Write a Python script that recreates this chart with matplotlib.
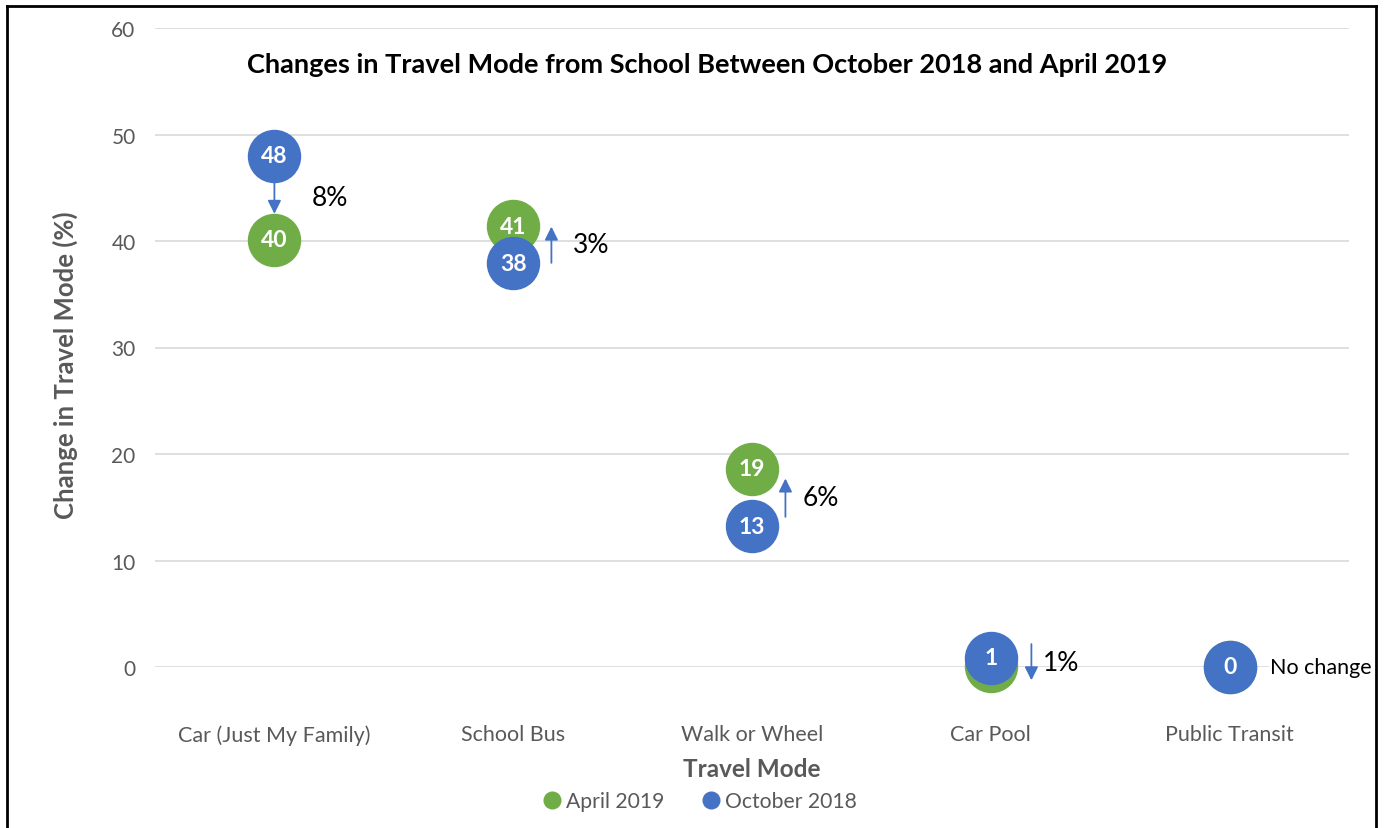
import matplotlib
matplotlib.use("Agg")
import matplotlib.pyplot as plt
from matplotlib.lines import Line2D

plt.rcParams['font.family'] = ['Lato', 'DejaVu Sans']

categories = ["Car (Just My Family)", "School Bus", "Walk or Wheel", "Car Pool", "Public Transit"]
april_2019 = [40.1, 41.4, 18.6, 0.05, 0.0]
october_2018 = [48.0, 37.9, 13.2, 0.85, 0.0]
april_labels = ["40", "41", "19", "0", "0"]
october_labels = ["48", "38", "13", "1", "0"]
change_labels = ["8%", "3%", "6%", "1%", "No change"]

GREEN = "#70AD47"
BLUE = "#4472C4"
GRAY = "#595959"

fig = plt.figure(figsize=(13.85, 8.29), dpi=100)
ax = fig.add_axes([155/1385, 1 - 668/829, (1349 - 155)/1385, (668 - 29)/829])

x = list(range(len(categories)))
ax.set_xlim(-0.5, len(categories) - 0.5)
ax.set_ylim(0, 60)
ax.set_yticks([0, 10, 20, 30, 40, 50, 60])
ax.yaxis.grid(True, color="#D9D9D9", lw=1.2)
ax.set_axisbelow(True)
for s in ax.spines.values():
    s.set_visible(False)
ax.tick_params(axis='both', length=0, colors=GRAY, labelsize=15.5)
ax.tick_params(axis='y', labelsize=15, pad=14)
ax.tick_params(axis='x', pad=41)
ax.set_xticks(x)
ax.set_xticklabels(categories)

msize = 1480
ax.scatter(x, april_2019, s=msize, color=GREEN, zorder=3, clip_on=False, linewidths=0)
ax.scatter(x, october_2018, s=msize, color=BLUE, zorder=4, clip_on=False, linewidths=0)

for i in x:
    if abs(april_2019[i] - october_2018[i]) > 1.5:
        ax.text(i, april_2019[i], april_labels[i], ha='center', va='center', color='white',
                fontsize=16.5, fontweight='bold', zorder=5)
    ax.text(i, october_2018[i], october_labels[i], ha='center', va='center', color='white',
            fontsize=16.5, fontweight='bold', zorder=6)

# arrows showing change direction
arrow_dx = [0.0, 0.16, 0.14, 0.17, None]
arrow_half = [1.5, 1.7, 1.8, 1.7, None]
text_dx = [0.155, 0.25, 0.21, 0.22, 0.17]
for i in x:
    mid = (april_2019[i] + october_2018[i]) / 2
    if arrow_dx[i] is not None:
        sign = 1 if april_2019[i] > october_2018[i] else -1
        ax.annotate("", xy=(i + arrow_dx[i], mid + sign * arrow_half[i]),
                    xytext=(i + arrow_dx[i], mid - sign * arrow_half[i]),
                    arrowprops=dict(arrowstyle='-|>', color=BLUE, lw=1.3, mutation_scale=20,
                                    shrinkA=0, shrinkB=0), zorder=7, annotation_clip=False)
        ax.text(i + text_dx[i], mid, change_labels[i], ha='left', va='center', color='black',
                fontsize=19, zorder=7)
    else:
        ax.text(i + text_dx[i], mid, change_labels[i], ha='left', va='center', color='black',
                fontsize=15.5, zorder=7, bbox=dict(facecolor='white', edgecolor='none', pad=1))

ax.set_ylabel("Change in Travel Mode (%)", fontsize=18.5, fontweight='bold', color=GRAY)
ax.yaxis.set_label_coords((65 - 155) / 1194, (668 - 365) / 639)
ax.set_xlabel("Travel Mode", fontsize=17.5, fontweight='bold', color=GRAY)
ax.xaxis.set_label_coords(0.5, (668 - 770) / 639)
ax.xaxis.label.set_va('center')
ax.yaxis.label.set_va('center')

fig.text(707/1385, 1 - 65/829, "Changes in Travel Mode from School Between October 2018 and April 2019",
         ha='center', va='center', fontsize=19.5, fontweight='bold', color='black')

handles = [Line2D([], [], marker='o', color=GREEN, ls='none', markersize=12),
           Line2D([], [], marker='o', color=BLUE, ls='none', markersize=12)]
fig.legend(handles, ["April 2019", "October 2018"], loc='center', bbox_to_anchor=(698/1385, 1 - 802/829),
           ncol=2, frameon=False, fontsize=15.2, handletextpad=0.05, columnspacing=1.6,
           handlelength=1.2, labelcolor=GRAY)

# outer border (left, top, right)
fig.add_artist(Line2D([7/1385, 7/1385], [0, 1 - 7/829], color='black', lw=2, transform=fig.transFigure))
fig.add_artist(Line2D([7/1385, 1376/1385], [1 - 7/829, 1 - 7/829], color='black', lw=2, transform=fig.transFigure))
fig.add_artist(Line2D([1376/1385, 1376/1385], [0, 1 - 7/829], color='black', lw=2, transform=fig.transFigure))

fig.savefig("out.png", dpi=100)
